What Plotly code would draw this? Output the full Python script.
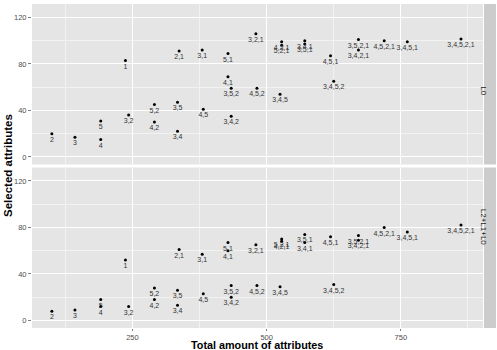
import plotly.graph_objects as go
from plotly.subplots import make_subplots

combos = ["2", "3", "4", "5", "1", "3,2", "4,2", "5,2", "3,4", "3,5", "2,1", "4,5",
          "3,1", "4,1", "5,1", "3,4,2", "3,5,2", "3,2,1", "4,5,2", "3,4,5", "4,2,1",
          "5,2,1", "3,4,1", "3,5,1", "4,5,1", "3,4,5,2", "3,4,2,1", "3,5,2,1",
          "4,5,2,1", "3,4,5,1", "3,4,5,2,1"]
total_attributes = [100, 143, 191, 191, 237, 243, 291, 291, 334, 334, 337, 382,
                    380, 428, 428, 434, 434, 480, 482, 525, 528,
                    528, 571, 571, 619, 625, 671, 671,
                    719, 762, 862]
selected_L0 = [20, 17, 15, 31, 83, 36, 30, 45, 22, 47, 91, 41,
               92, 69, 89, 35, 59, 106, 59, 54, 99,
               96, 100, 97, 87, 65, 92, 101,
               100, 99, 101.5]
selected_L210 = [8, 9, 12, 18, 52, 12, 18, 28, 13, 26, 61, 23,
                 57, 60, 67, 20, 30, 65, 30, 29, 68,
                 70, 67, 74, 72, 31, 69, 73,
                 80, 76, 82]
panels = ["L0", "L2+L1+L0"]
series = [selected_L0, selected_L210]

FONT = "Liberation Sans, Arial, sans-serif"
fig = make_subplots(rows=2, cols=1, shared_xaxes=True, vertical_spacing=0.0093)

for i, vals in enumerate(series):
    fig.add_trace(go.Scatter(
        x=total_attributes, y=vals, text=combos, mode="markers+text",
        textposition="bottom center",
        textfont=dict(size=7, color="#333333", family=FONT),
        marker=dict(size=3, color="black"),
        showlegend=False, cliponaxis=False), row=i + 1, col=1)

for r in (1, 2):
    fig.update_xaxes(range=[63, 903], tick0=0, dtick=250, showgrid=True,
                     gridcolor="white", gridwidth=1.1, zeroline=False,
                     minor=dict(dtick=125, tick0=0, showgrid=True, gridcolor="#F2F2F2", gridwidth=0.6),
                     ticks="outside", ticklen=2, tickcolor="#7F7F7F",
                     tickfont=dict(size=7.5, color="#4D4D4D", family=FONT),
                     showline=False, row=r, col=1)
    fig.update_yaxes(range=[-6.5, 131.5], tick0=0, dtick=40, showgrid=True,
                     gridcolor="white", gridwidth=1.1, zeroline=False,
                     minor=dict(dtick=20, tick0=0, showgrid=True, gridcolor="#F2F2F2", gridwidth=0.6),
                     ticks="outside", ticklen=3, tickcolor="#7F7F7F",
                     tickfont=dict(size=7.5, color="#4D4D4D", family=FONT),
                     showline=False, row=r, col=1)
fig.update_xaxes(showticklabels=False, ticks="", row=1, col=1)

# facet strips
doms = [fig.layout.yaxis.domain, fig.layout.yaxis2.domain]
for lab, d in zip(panels, doms):
    fig.add_shape(type="rect", xref="paper", yref="paper", x0=1.0022, x1=1.0288,
                  y0=d[0], y1=d[1], fillcolor="#CCCCCC", line=dict(width=0))
    fig.add_annotation(text=lab, xref="paper", yref="paper", x=1.0155, y=(d[0] + d[1]) / 2,
                       textangle=90, showarrow=False,
                       font=dict(size=8, color="#1A1A1A", family=FONT))

fig.add_annotation(text="<b>Selected attributes</b>", xref="paper", yref="paper",
                   x=-0.0532, y=0.5, textangle=-90, showarrow=False,
                   xanchor="center", yanchor="middle",
                   font=dict(size=11.5, color="black", family=FONT))
fig.add_annotation(text="<b>Total amount of attributes</b>", xref="paper", yref="paper",
                   x=0.498, y=-0.053, showarrow=False, xanchor="center", yanchor="middle",
                   font=dict(size=10.8, color="black", family=FONT))

fig.update_layout(width=497, height=350, margin=dict(l=32, r=14, t=4, b=22),
                  plot_bgcolor="#E5E5E5", paper_bgcolor="white",
                  font=dict(family=FONT))
fig.write_html("out.html")
